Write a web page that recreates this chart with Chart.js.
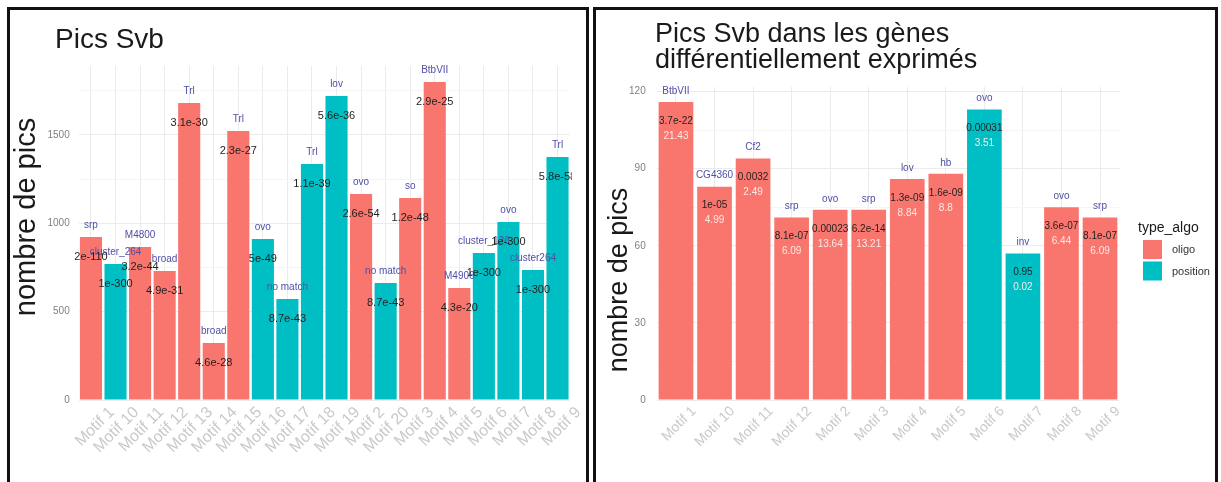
<!DOCTYPE html>
<html>
<head>
<meta charset="utf-8">
<script src="https://cdn.jsdelivr.net/npm/chart.js@4.4.1/dist/chart.umd.min.js"></script>
<style>
  body { margin: 0; background: #fff; width: 1221px; height: 482px; overflow: hidden; position: relative; font-family: "Liberation Sans", Arial, sans-serif; }
  .panel { position: absolute; top: 7px; height: 500px; border: 3px solid #111; background: #fff; }
  #p1 { left: 7px; width: 576px; }
  #p2 { left: 593px; width: 619px; }
  canvas { position: absolute; left: 0; top: 0; }
</style>
</head>
<body>
<div class="panel" id="p1"><canvas id="allChart" width="576" height="472"></canvas></div>
<div class="panel" id="p2"><canvas id="deChart" width="619" height="472"></canvas></div>
<script>
  // Panel 1 : all peaks
  const motifsAll = ['Motif 1', 'Motif 10', 'Motif 11', 'Motif 12', 'Motif 13', 'Motif 14', 'Motif 15', 'Motif 16', 'Motif 17', 'Motif 18',
    'Motif 19', 'Motif 2', 'Motif 20', 'Motif 3', 'Motif 4', 'Motif 5', 'Motif 6', 'Motif 7', 'Motif 8', 'Motif 9'];
  const picsAll = [922, 770, 866, 730, 1681, 323, 1522, 911, 572, 1336, 1720, 1166, 662, 1143, 1800, 634, 832, 1007, 736, 1375];
  const typeAll = ['oligo', 'position', 'oligo', 'oligo', 'oligo', 'oligo', 'oligo', 'position', 'position', 'position',
    'position', 'oligo', 'position', 'oligo', 'oligo', 'oligo', 'position', 'position', 'position', 'position'];
  const tfAll = ['srp', 'cluster_264', 'M4800', 'broad', 'Trl', 'broad', 'Trl', 'ovo', 'no match', 'Trl',
    'lov', 'ovo', 'no match', 'so', 'BtbVII', 'M4906', 'cluster_126', 'ovo', 'cluster264', 'Trl'];
  const pvalAll = ['2e-110', '1e-300', '3.2e-44', '4.9e-31', '3.1e-30', '4.6e-28', '2.3e-27', '5e-49', '8.7e-43', '1.1e-39',
    '5.6e-36', '2.6e-54', '8.7e-43', '1.2e-48', '2.9e-25', '4.3e-20', '1e-300', '1e-300', '1e-300', '5.8e-58'];
  const ticksAll = [0, 500, 1000, 1500];

  // Panel 2 : peaks in differentially expressed genes
  const motifsDE = ['Motif 1', 'Motif 10', 'Motif 11', 'Motif 12', 'Motif 2', 'Motif 3', 'Motif 4', 'Motif 5', 'Motif 6', 'Motif 7', 'Motif 8', 'Motif 9'];
  const picsDE = [116, 83, 94, 71, 74, 74, 86, 88, 113, 57, 75, 71];
  const typeDE = ['oligo', 'oligo', 'oligo', 'oligo', 'oligo', 'oligo', 'oligo', 'oligo', 'position', 'position', 'oligo', 'oligo'];
  const tfDE = ['BtbVII', 'CG4360', 'Cf2', 'srp', 'ovo', 'srp', 'lov', 'hb', 'ovo', 'inv', 'ovo', 'srp'];
  const pvalDE = ['3.7e-22', '1e-05', '0.0032', '8.1e-07', '0.00023', '6.2e-14', '1.3e-09', '1.6e-09', '0.00031', '0.95', '3.6e-07', '8.1e-07'];
  const enrichDE = ['21.43', '4.99', '2.49', '6.09', '13.64', '13.21', '8.84', '8.8', '3.51', '0.02', '6.44', '6.09'];
  const ticksDE = [0, 30, 60, 90, 120];

  const typeColors = { oligo: '#F8766D', position: '#00BFC4' };
  const FONT = '"Liberation Sans", Arial, sans-serif';

  // text on / above the bars, clipped to the panel like ggplot
  const barLabels = {
    id: 'barLabels',
    afterDatasetsDraw(chart, args, opts) {
      const { ctx, chartArea } = chart;
      const bars = chart.getDatasetMeta(0).data;
      ctx.save();
      ctx.beginPath();
      // panel is a little wider than the bar area
      ctx.rect(chartArea.left - 6, chartArea.top - 6, chartArea.right - chartArea.left + 8, chartArea.bottom - chartArea.top + 6);
      ctx.clip();
      ctx.textAlign = 'center';
      ctx.textBaseline = 'middle';
      opts.layers.forEach(layer => {
        ctx.font = layer.font;
        ctx.fillStyle = layer.color;
        layer.texts.forEach((t, i) => ctx.fillText(t, bars[i].x, bars[i].y + layer.dy));
      });
      ctx.restore();
    }
  };

  // title, y axis title and legend
  const decor = {
    id: 'decor',
    afterDraw(chart, args, o) {
      const ctx = chart.ctx;
      ctx.save();
      ctx.fillStyle = '#1a1a1a';
      ctx.textAlign = 'left';
      ctx.textBaseline = 'alphabetic';
      ctx.font = o.titleSize + 'px ' + FONT;
      o.title.forEach((line, i) => ctx.fillText(line, o.titleX, o.titleY + i * o.titleLine));

      ctx.save();
      ctx.translate(o.yTitleX, o.yTitleY);
      ctx.rotate(-Math.PI / 2);
      ctx.textAlign = 'center';
      ctx.textBaseline = 'middle';
      ctx.font = o.yTitleSize + 'px ' + FONT;
      ctx.fillText(o.yTitle, 0, 0);
      ctx.restore();

      if (o.legend) {
        const lg = o.legend;
        ctx.textBaseline = 'middle';
        ctx.font = '14px ' + FONT;
        ctx.fillStyle = '#1a1a1a';
        ctx.fillText('type_algo', lg.x, lg.y);
        ctx.font = '11px ' + FONT;
        Object.keys(typeColors).forEach((k, i) => {
          const ky = lg.y + 12 + i * 21.5;
          ctx.fillStyle = typeColors[k];
          ctx.fillRect(lg.x + 5, ky, 19, 19);
          ctx.fillStyle = '#333';
          ctx.fillText(k, lg.x + 34, ky + 10);
        });
      }
      ctx.restore();
    }
  };

  function makeChart(id, g) {
    const canvas = document.getElementById(id);
    return new Chart(canvas, {
      type: 'bar',
      data: {
        labels: g.labels,
        datasets: [{
          data: g.values,
          backgroundColor: g.types.map(t => typeColors[t]),
          borderWidth: 0,
          barPercentage: 0.9,
          categoryPercentage: 1.0
        }]
      },
      options: {
        responsive: false,
        animation: false,
        layout: { padding: { left: 0, top: g.top, right: canvas.width - g.right, bottom: 0 } },
        scales: {
          x: {
            offset: true,
            border: { display: false },
            grid: { offset: false, color: '#ebebeb', drawTicks: false },
            ticks: {
              autoSkip: false, minRotation: 45, maxRotation: 45,
              labelOffset: g.labelOffset, padding: 3,
              color: '#c9c9c9', font: { family: FONT, size: g.xFont }
            },
            afterFit: s => { s.height = canvas.height - g.bottom; }
          },
          y: {
            min: 0, max: g.max,
            border: { display: false },
            grid: {
              drawTicks: false,
              color: c => g.ticks.includes(c.tick.value) ? '#ebebeb' : '#f5f5f5'
            },
            ticks: {
              stepSize: g.step / 2, includeBounds: false, padding: g.tickPad,
              color: '#808080', font: { family: FONT, size: 10 },
              callback: v => g.ticks.includes(v) ? String(v) : ''
            },
            afterFit: s => { s.width = g.left; }
          }
        },
        plugins: {
          legend: { display: false },
          tooltip: { enabled: false },
          barLabels: { layers: g.layers },
          decor: g.decor
        }
      },
      plugins: [barLabels, decor]
    });
  }

  makeChart('allChart', {
    labels: motifsAll, values: picsAll, types: typeAll,
    max: 1890, step: 500, ticks: ticksAll,
    left: 68.7, right: 559.8, top: 56, bottom: 390,
    xFont: 16, labelOffset: 21, tickPad: 9,
    layers: [
      { texts: tfAll, dy: -12, font: '10px ' + FONT, color: '#4f4fa8' },
      { texts: pvalAll, dy: 20, font: '11px ' + FONT, color: '#1f1f1f' }
    ],
    decor: {
      title: ['Pics Svb'], titleSize: 28, titleX: 45, titleY: 38, titleLine: 0,
      yTitle: 'nombre de pics', yTitleSize: 29, yTitleX: 17, yTitleY: 207
    }
  });

  makeChart('deChart', {
    labels: motifsDE, values: picsDE, types: typeDE,
    max: 121.8, step: 30, ticks: ticksDE,
    left: 60.7, right: 523.3, top: 77, bottom: 390,
    xFont: 14, labelOffset: 18, tickPad: 11,
    layers: [
      { texts: tfDE, dy: -11, font: '10px ' + FONT, color: '#4f4fa8' },
      { texts: pvalDE, dy: 19, font: '10px ' + FONT, color: '#1f1f1f' },
      { texts: enrichDE, dy: 34, font: '10px ' + FONT, color: '#fbe9e6' }
    ],
    decor: {
      title: ['Pics Svb dans les gènes', 'différentiellement exprimés'], titleSize: 27, titleX: 59, titleY: 31.5, titleLine: 26.5,
      yTitle: 'nombre de pics', yTitleSize: 27, yTitleX: 24, yTitleY: 270,
      legend: { x: 542, y: 218 }
    }
  });
</script>
</body>
</html>
